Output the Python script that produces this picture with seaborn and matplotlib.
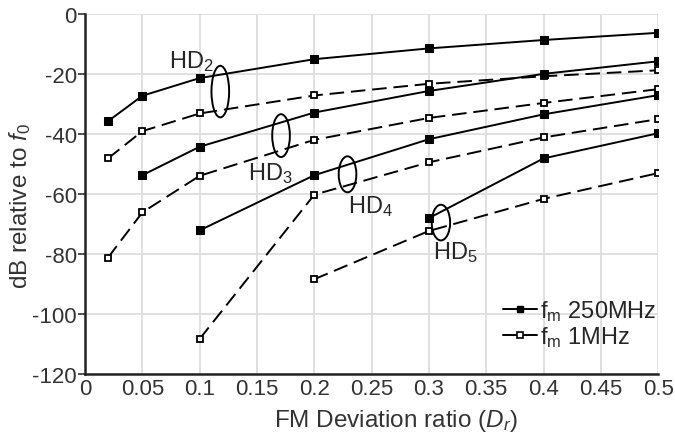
import numpy as np
import pandas as pd
import matplotlib
matplotlib.use("Agg")
import matplotlib.pyplot as plt
from matplotlib.lines import Line2D
from matplotlib.patches import Ellipse
import seaborn as sns

dr = [0.02, 0.05, 0.1, 0.2, 0.3, 0.4, 0.5]

# f_m = 250 MHz (solid, filled squares); None = not measured
hd2_250 = [-35.7, -27.2, -21.3, -15.0, -11.4, -8.6, -6.2]
hd3_250 = [None, -53.7, -44.2, -32.8, -25.6, -19.9, -15.7]
hd4_250 = [None, None, -72.1, -53.7, -41.7, -33.4, -27.0]
hd5_250 = [None, None, None, None, -68.0, -48.1, -39.7]

# f_m = 1 MHz (dashed, open squares)
hd2_1 = [-48.1, -39.0, -33.1, -27.1, -23.2, -20.7, -18.7]
hd3_1 = [-81.2, -66.1, -53.9, -41.9, -34.6, -29.6, -25.0]
hd4_1 = [None, None, -108.3, -60.2, -49.4, -41.1, -35.0]
hd5_1 = [None, None, None, -88.4, -72.3, -61.6, -53.0]

series = {
    ("HD2", "250MHz"): hd2_250, ("HD3", "250MHz"): hd3_250,
    ("HD4", "250MHz"): hd4_250, ("HD5", "250MHz"): hd5_250,
    ("HD2", "1MHz"): hd2_1, ("HD3", "1MHz"): hd3_1,
    ("HD4", "1MHz"): hd4_1, ("HD5", "1MHz"): hd5_1,
}

rows = []
for (hd, fm), vals in series.items():
    for x, v in zip(dr, vals):
        if v is not None:
            rows.append({"Dr": x, "dB": v, "hd": hd, "fm": fm})
df = pd.DataFrame(rows)

sns.set_theme(style="whitegrid")
plt.rcParams["font.family"] = ["Liberation Sans", "DejaVu Sans"]
plt.rcParams["mathtext.fontset"] = "custom"
plt.rcParams["mathtext.rm"] = "Liberation Sans"
plt.rcParams["mathtext.it"] = "Liberation Sans:italic"
plt.rcParams["axes.unicode_minus"] = False

fig, ax = plt.subplots(figsize=(6.75, 4.35), dpi=100)
fig.subplots_adjust(left=0.126, right=0.975, top=0.965, bottom=0.138)

for (hd, fm), sub in df.groupby(["hd", "fm"]):
    if fm == "250MHz":
        sns.lineplot(data=sub, x="Dr", y="dB", ax=ax, color="black", lw=1.4,
                     marker="s", markersize=5.5, markerfacecolor="black",
                     markeredgecolor="black", estimator=None)
    else:
        sns.lineplot(data=sub, x="Dr", y="dB", ax=ax, color="black", lw=1.4,
                     marker="s", markersize=5, markerfacecolor="white",
                     markeredgecolor="black", markeredgewidth=1.3,
                     dashes=(7.5, 3.5), estimator=None)

ax.set_xlim(0, 0.5)
ax.set_ylim(-120, 0)
ax.set_xticks(np.arange(0, 0.501, 0.05))
ax.set_xticklabels(["0", "0.05", "0.1", "0.15", "0.2", "0.25", "0.3",
                    "0.35", "0.4", "0.45", "0.5"])
ax.set_yticks(np.arange(-120, 1, 20))
ax.tick_params(labelsize=16, colors="#333333", pad=1)
ax.tick_params(axis="x", length=0, pad=3)
ax.tick_params(axis="y", length=5, width=1.2, left=True, color="#333333")
ax.grid(color="#dddddd", lw=1.3)
for s in ["top", "right"]:
    ax.spines[s].set_visible(False)
for s in ["left", "bottom"]:
    ax.spines[s].set_color("#222222")
    ax.spines[s].set_linewidth(1.8)

ax.set_xlabel("FM Deviation ratio ($D_r$)", fontsize=17.5, color="#333333")
ax.set_ylabel("dB relative to $f_0$", fontsize=17.5, color="#333333")
ax.xaxis.set_label_coords(0.542, -0.092)
ax.yaxis.set_label_coords(-0.09, 0.468)

# ellipses grouping the harmonic pairs
ells = [(0.118, -25.8, 0.0154, 17.2), (0.171, -40.5, 0.0154, 14.3),
        (0.229, -53.4, 0.0154, 12.0), (0.3105, -69.5, 0.016, 11.9)]
for cx, cy, w, h in ells:
    ax.add_patch(Ellipse((cx, cy), w, h, fill=False, ec="black", lw=1.4, zorder=5))

ax.text(0.093, -15.3, "HD$_2$", fontsize=17, ha="center", va="center")
ax.text(0.162, -52.8, "HD$_3$", fontsize=17, ha="center", va="center")
ax.text(0.249, -63.8, "HD$_4$", fontsize=17, ha="center", va="center")
ax.text(0.323, -79.2, "HD$_5$", fontsize=17, ha="center", va="center")

handles = [
    Line2D([], [], color="black", lw=1.4, marker="s", markersize=4.5,
           markerfacecolor="black"),
    Line2D([], [], color="black", lw=1.4, marker="s", markersize=4,
           markerfacecolor="white", markeredgewidth=1.2),
]
ax.legend(handles, ["f$_\\mathrm{m}$ 250MHz", "f$_\\mathrm{m}$ 1MHz"],
          loc="lower right", bbox_to_anchor=(0.997, 0.07), frameon=False,
          fontsize=17, handlelength=1.45, handletextpad=0.1,
          labelspacing=0.05, borderpad=0, borderaxespad=0)

plt.savefig("out.png", dpi=100)
